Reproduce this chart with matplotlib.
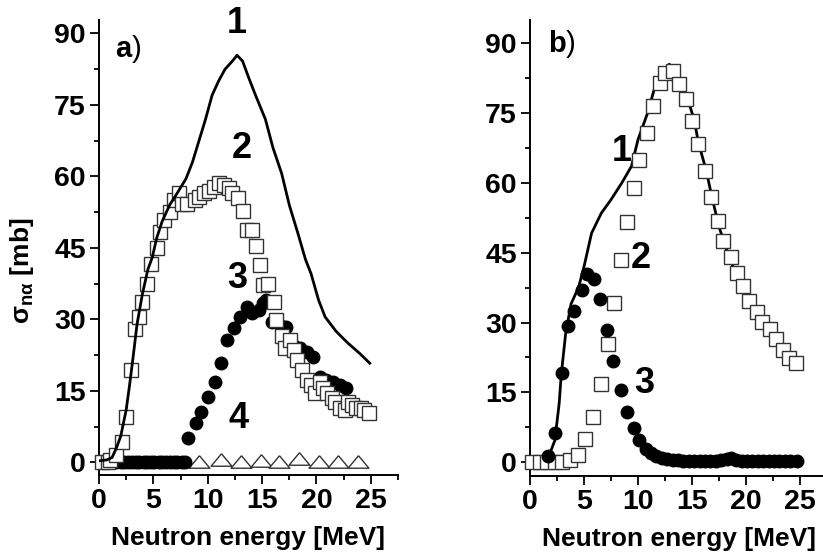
import matplotlib
matplotlib.use("Agg")
import matplotlib.pyplot as plt
from matplotlib.ticker import MultipleLocator

plt.rcParams["font.family"] = ["Liberation Sans", "DejaVu Sans"]
plt.rcParams["mathtext.fontset"] = "custom"
plt.rcParams["mathtext.rm"] = "Liberation Sans"
plt.rcParams["mathtext.bf"] = "Liberation Sans:bold"
plt.rcParams["mathtext.it"] = "Liberation Sans:bold"

# ---- panel a) ----
a_line_x = [0.0, 0.7, 1.2, 1.6, 2.0, 2.5, 2.8, 3.1, 3.5, 4.0, 4.5, 4.9, 5.3, 5.8, 6.5,
            7.2, 8.0, 8.6, 9.2, 9.8, 10.4, 11.0, 11.6, 12.2, 12.7, 13.2, 13.8, 14.4,
            15.3, 16.0, 16.8, 17.5, 18.3, 19.0, 19.5, 20.2, 20.8, 21.8, 22.9, 24.0, 24.9]
a_line_y = [0.3, 0.5, 1.0, 3.0, 5.5, 11.0, 16.0, 21.4, 29.0, 35.4, 40.5, 43.0, 47.0, 50.5,
            54.0, 56.5, 59.5, 63.0, 67.5, 72.0, 77.0, 80.0, 82.5, 84.0, 85.4, 84.2, 80.5,
            77.0, 72.0, 66.0, 60.6, 54.0, 48.0, 42.5, 39.6, 34.0, 30.5, 27.5, 25.0, 22.8, 20.8]

a_sq_x = [0.3, 0.8, 1.0, 1.6, 2.1, 2.5, 2.9, 3.3, 3.7, 4.0, 4.4, 4.8, 5.3, 5.6, 6.0, 6.5,
          6.9, 7.4, 7.6, 8.1, 8.8, 9.2, 9.7, 10.1, 10.6, 11.0, 11.5, 12.0, 12.2, 12.8,
          13.2, 13.6, 14.1, 14.4, 14.8, 15.1, 15.5, 16.1, 16.3, 16.8, 17.1, 17.6, 17.9,
          18.2, 18.7, 19.1, 19.5, 19.9, 20.3, 20.6, 21.0, 21.4, 21.7, 22.2, 22.6, 22.9,
          23.3, 23.6, 24.1, 24.4, 24.8]
a_sq_y = [0.0, 0.0, 0.4, 1.5, 4.2, 9.5, 19.3, 28.0, 30.4, 33.6, 37.5, 41.7, 45.0, 48.3,
          50.8, 52.5, 55.0, 56.4, 54.3, 54.3, 55.0, 55.6, 56.4, 57.0, 57.7, 58.5, 58.1,
          57.5, 56.4, 55.4, 52.7, 48.7, 48.7, 45.3, 41.3, 37.1, 37.5, 33.6, 29.8, 26.6,
          23.9, 25.6, 23.5, 21.4, 19.3, 17.2, 16.2, 14.5, 16.8, 15.5, 14.5, 13.4, 12.6,
          11.5, 10.9, 12.6, 12.0, 11.5, 11.3, 10.9, 10.3]

a_dot_x = [0.6, 0.9, 1.3, 1.6, 2.0, 2.3, 2.7, 3.0, 3.4, 3.7, 4.1, 4.4, 4.8, 5.1, 5.5, 5.8,
           6.2, 6.5, 6.9, 7.2, 7.6, 7.9, 8.2, 8.9, 9.4, 10.0, 10.7, 11.2, 11.8, 12.4,
           13.0, 13.6, 14.1, 14.7, 15.1, 15.4, 15.9, 16.7, 17.2, 17.9, 18.5, 19.1, 19.7,
           20.3, 20.9, 21.5, 22.2, 22.7]
a_dot_y = [0.0] * 22 + [5.0, 8.2, 10.5, 13.6, 16.8, 20.8, 25.6, 28.1, 30.4, 32.5, 31.3,
                        31.9, 33.4, 34.0, 29.4, 28.7, 28.3, 24.5, 23.9, 23.1, 22.0, 17.8,
                        17.2, 16.8, 16.2, 15.5]

a_tri_low_x = [0.4, 1.2, 2.2, 3.1, 4.0, 4.9, 5.8, 6.7, 7.7]
a_tri_low_y = [0.3, 0.3, 0.3, 0.3, 0.3, 0.3, 0.3, 0.3, 0.3]
a_tri_x = [9.2, 11.2, 13.1, 14.9, 16.6, 18.4, 20.2, 22.0, 23.8]
a_tri_y = [0.0, 0.4, 0.0, 0.2, 0.0, 0.7, 0.0, 0.0, 0.0]

# ---- panel b) ----
b_line_x = [1.0, 1.7, 2.3, 2.7, 2.9, 3.3, 3.8, 4.5, 5.0, 5.7, 6.6, 7.5, 8.5, 9.4, 10.0,
            10.9, 11.5, 12.1, 12.9, 13.7, 14.6, 15.2, 15.6, 16.3, 16.9, 17.5, 18.1, 18.8,
            19.7, 20.3, 21.0, 21.5, 22.2, 22.8, 23.4, 24.0, 24.6]
b_line_y = [0.2, 1.0, 4.7, 12.6, 19.0, 27.6, 34.0, 37.6, 42.0, 49.2, 53.5, 56.4, 60.0,
            63.6, 69.3, 75.1, 80.1, 83.0, 85.5, 83.0, 78.0, 73.6, 68.6, 62.8, 56.4, 50.6,
            46.3, 42.0, 37.8, 34.6, 32.2, 30.1, 28.6, 26.4, 24.1, 22.4, 21.3]

b_sq_x = [0.2, 0.9, 1.6, 2.3, 3.0, 3.7, 4.4, 5.1, 5.8, 6.6, 7.2, 7.8, 8.4, 9.0, 9.6, 10.1,
          10.8, 11.4, 12.0, 12.5, 13.2, 13.8, 14.4, 15.0, 15.6, 16.2, 16.8, 17.4, 17.9,
          18.6, 19.2, 19.7, 20.3, 21.0, 21.5, 22.2, 22.8, 23.4, 24.0, 24.6]
b_sq_y = [0.0, 0.0, 0.0, 0.0, 0.0, 0.4, 1.5, 4.9, 9.8, 16.9, 25.3, 34.2, 43.4, 51.7, 58.9,
          65.0, 70.8, 76.5, 81.5, 83.7, 84.0, 81.2, 78.0, 73.2, 68.4, 62.6, 57.0, 51.9,
          47.6, 44.1, 40.6, 37.8, 34.6, 32.2, 30.1, 28.6, 26.4, 24.1, 22.4, 21.3]

b_dot_x = [1.7, 2.3, 3.0, 3.5, 4.1, 4.8, 5.3, 5.9, 6.5, 7.1, 7.7, 8.4, 9.0, 9.6, 10.1,
           10.7, 11.2, 11.7, 12.2, 12.7, 13.2, 13.7, 14.2, 14.7, 15.2, 15.7, 16.2, 16.7,
           17.2, 17.7, 18.2, 18.6, 19.1, 19.6, 20.1, 20.6, 21.1, 21.6, 22.1, 22.6, 23.1,
           23.6, 24.1, 24.7]
b_dot_y = [1.4, 6.2, 19.1, 29.2, 32.5, 37.0, 40.4, 39.3, 35.0, 28.4, 21.7, 15.5, 10.7,
           7.3, 4.7, 2.9, 2.0, 1.4, 1.0, 0.7, 0.5, 0.4, 0.3, 0.3, 0.3, 0.3, 0.3, 0.3,
           0.3, 0.4, 0.6, 0.8, 0.4, 0.3, 0.3, 0.3, 0.3, 0.3, 0.3, 0.3, 0.3, 0.3, 0.3, 0.3]

yticks = [0, 15, 30, 45, 60, 75, 90]
xticks = [0, 5, 10, 15, 20, 25]

tri_flat = [(0, 0.65), (-1, -0.55), (1, -0.55), (0, 0.65)]
sq_style = dict(ls="none", marker="s", ms=9.5, mfc="white", mec="#333333", mew=1.0)
dot_style = dict(ls="none", marker="o", ms=9, mfc="black", mec="black")
lab_style = dict(fontsize=26, fontweight="bold", ha="center", va="center")

fig = plt.figure(figsize=(8.23, 5.56), dpi=100)
ax1 = fig.add_axes([99 / 823, 81 / 556, 299 / 823, 455 / 556])
ax2 = fig.add_axes([530 / 823, 80 / 556, 297 / 823, 456 / 556])


def style_axes(ax, ylim):
    ax.set_xlim(0, 27.5)
    ax.set_ylim(*ylim)
    ax.set_xticks(xticks)
    ax.set_yticks(yticks)
    ax.xaxis.set_minor_locator(MultipleLocator(2.5))
    ax.yaxis.set_minor_locator(MultipleLocator(7.5))
    for s in ["top", "right"]:
        ax.spines[s].set_visible(False)
    for s in ["left", "bottom"]:
        ax.spines[s].set_linewidth(1.4)
    ax.tick_params(which="major", direction="out", length=6.5, width=1.3, pad=3,
                   labelsize=20.5)
    ax.tick_params(which="minor", direction="out", length=3.5, width=1.3)
    for lab in ax.get_xticklabels() + ax.get_yticklabels():
        lab.set_fontweight("bold")
    ax.set_xlabel("Neutron energy [MeV]", fontsize=19, fontweight="bold")
    ax.xaxis.set_label_coords(0.5, -0.112)


# panel a
ax1.plot(a_tri_low_x, a_tri_low_y, ls="none", marker=tri_flat, ms=11, mfc="black",
         mec="black", zorder=2, clip_on=False)
ax1.plot(a_tri_x, a_tri_y, ls="none", marker=tri_flat, ms=15, mfc="white",
         mec="#333333", mew=1.0, zorder=2, clip_on=False)
ax1.plot(a_dot_x, a_dot_y, zorder=3, clip_on=False, **dot_style)
ax1.plot(a_sq_x, a_sq_y, zorder=4, clip_on=False, **sq_style)
ax1.plot(a_line_x, a_line_y, color="black", lw=2.0, zorder=5)
style_axes(ax1, (-2.66, 92.8))
ax1.set_ylabel(r"$\mathbf{σ_{nα}}$ [mb]", fontsize=19, fontweight="bold")
ax1.yaxis.set_label_coords(-0.212, 0.45)
ax1.text(1.5, 86.8, r"$\mathbf{a}$)", fontsize=21, ha="left", va="center")
ax1.text(12.7, 92.0, "1", clip_on=False, **lab_style)
ax1.text(13.1, 65.9, "2", **lab_style)
ax1.text(12.7, 38.6, "3", **lab_style)
ax1.text(12.8, 9.2, "4", **lab_style)

# panel b
ax2.plot(b_line_x, b_line_y, color="black", lw=2.0, zorder=2)
ax2.plot(b_sq_x, b_sq_y, zorder=3, clip_on=False, **sq_style)
ax2.plot(b_dot_x, b_dot_y, zorder=4, clip_on=False, **dot_style)
style_axes(ax2, (-2.96, 95.0))
ax2.text(1.7, 89.8, r"$\mathbf{b}$)", fontsize=21, ha="left", va="center")
ax2.text(8.5, 66.7, "1", **lab_style)
ax2.text(10.3, 43.8, "2", **lab_style)
ax2.text(10.6, 17.0, "3", **lab_style)

fig.savefig("out.png", dpi=100)
